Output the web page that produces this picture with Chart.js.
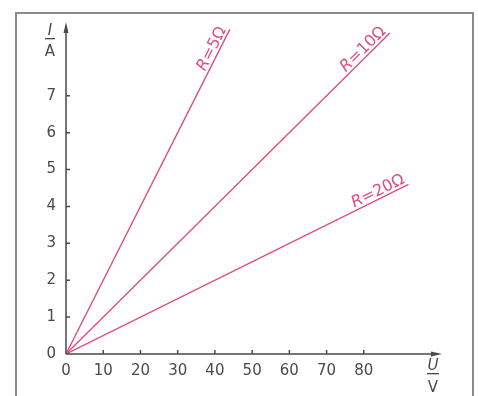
<!DOCTYPE html>
<html>
<head>
<meta charset="utf-8">
<script src="https://cdn.jsdelivr.net/npm/chart.js@4"></script>
<style>
  body { margin: 0; background: #fff; }
  #wrap { position: relative; width: 478px; height: 396px; }
  #frame { position: absolute; left: 15px; top: 12px; width: 455px; height: 400px;
           border: 2px solid #8a8a8a; border-bottom: none; }
</style>
</head>
<body>
<div id="wrap">
  <div id="frame"></div>
  <canvas id="myChart"></canvas>
</div>
<script>
// line end points (U in V, I in A)
const seriesNames = ['5', '10', '20'];
const voltsR5 = [0, 44];
const ampsR5 = [0, 8.8];
const voltsR10 = [0, 87];
const ampsR10 = [0, 8.7];
const voltsR20 = [0, 92];
const ampsR20 = [0, 4.6];
const xTicks = [0, 10, 20, 30, 40, 50, 60, 70, 80];
const yTicks = [0, 1, 2, 3, 4, 5, 6, 7];

const pink = '#dd4f80';
const ink = '#4a4a4a';
const font = '"DejaVu Sans", sans-serif';

function pts(xs, ys) {
    return xs.map((x, i) => ({ x: x, y: ys[i] }));
}

const axesPlugin = {
    id: 'axes',
    afterDraw(chart) {
        const ctx = chart.ctx;
        const xs = chart.scales.x, ys = chart.scales.y;
        const x0 = xs.getPixelForValue(0), y0 = ys.getPixelForValue(0);
        const xEnd = xs.getPixelForValue(xs.max), yEnd = ys.getPixelForValue(ys.max);
        ctx.save();
        ctx.strokeStyle = ink;
        ctx.fillStyle = ink;
        ctx.lineWidth = 1.5;
        ctx.beginPath();
        ctx.moveTo(x0, y0); ctx.lineTo(xEnd - 4, y0);
        ctx.moveTo(x0, y0); ctx.lineTo(x0, yEnd + 4);
        // tick marks inside the axes
        xTicks.slice(1).forEach(v => {
            const px = xs.getPixelForValue(v);
            ctx.moveTo(px, y0); ctx.lineTo(px, y0 - 4);
        });
        yTicks.slice(1).forEach(v => {
            const py = ys.getPixelForValue(v);
            ctx.moveTo(x0, py); ctx.lineTo(x0 + 4, py);
        });
        ctx.stroke();
        // arrows
        ctx.beginPath();
        ctx.moveTo(xEnd, y0); ctx.lineTo(xEnd - 11, y0 - 2.5); ctx.lineTo(xEnd - 11, y0 + 2.5);
        ctx.closePath();
        ctx.moveTo(x0, yEnd); ctx.lineTo(x0 - 2.5, yEnd + 11); ctx.lineTo(x0 + 2.5, yEnd + 11);
        ctx.closePath();
        ctx.fill();

        // axis names as fractions
        ctx.textAlign = 'center';
        ctx.textBaseline = 'alphabetic';
        ctx.font = 'italic 15px ' + font;
        ctx.fillText('I', 50, 35);
        ctx.font = '15px ' + font;
        ctx.fillText('A', 50, 56);
        ctx.fillRect(45, 38, 10, 1.3);
        ctx.font = 'italic 15px ' + font;
        ctx.fillText('U', 433, 370);
        ctx.font = '15px ' + font;
        ctx.fillText('V', 433, 392);
        ctx.fillRect(427, 373, 12, 1.3);

        // R = ... labels along the lines
        ctx.fillStyle = pink;
        chart.data.datasets.forEach((ds, i) => {
            const meta = chart.getDatasetMeta(i);
            const a = meta.data[0], b = meta.data[meta.data.length - 1];
            const ang = Math.atan2(b.y - a.y, b.x - a.x);
            ctx.save();
            ctx.translate(b.x, b.y);
            ctx.rotate(ang);
            ctx.textAlign = 'left';
            ctx.textBaseline = 'alphabetic';
            const rest = '=' + seriesNames[i] + 'Ω';
            ctx.font = '16px ' + font;
            const w2 = ctx.measureText(rest).width;
            ctx.font = 'italic 16px ' + font;
            const w1 = ctx.measureText('R').width;
            const end = -2;
            ctx.fillText('R', end - w2 - w1, -3);
            ctx.font = '16px ' + font;
            ctx.fillText(rest, end - w2, -3);
            ctx.restore();
        });
        ctx.restore();
    }
};

const ctx = document.getElementById('myChart');

new Chart(ctx, {
    type: 'scatter',
    data: {
        datasets: [
            { label: 'R=5Ω', data: pts(voltsR5, ampsR5) },
            { label: 'R=10Ω', data: pts(voltsR10, ampsR10) },
            { label: 'R=20Ω', data: pts(voltsR20, ampsR20) }
        ].map(d => Object.assign(d, {
            showLine: true,
            borderColor: pink,
            backgroundColor: pink,
            borderWidth: 1.4,
            pointRadius: 0
        }))
    },
    options: {
        responsive: true,
        maintainAspectRatio: false,
        animation: false,
        layout: { padding: { top: 22, right: 36, left: 0, bottom: 0 } },
        plugins: { legend: { display: false }, tooltip: { enabled: false } },
        scales: {
            x: {
                type: 'linear',
                min: 0,
                max: 101,
                afterFit: s => { s.height = 42; },
                afterBuildTicks: s => { s.ticks = xTicks.map(v => ({ value: v })); },
                ticks: { color: ink, font: { family: font, size: 15 }, padding: 8, maxRotation: 0 },
                grid: { display: false, drawTicks: false },
                border: { display: false }
            },
            y: {
                type: 'linear',
                min: 0,
                max: 9,
                afterFit: s => { s.width = 66; },
                afterBuildTicks: s => { s.ticks = yTicks.map(v => ({ value: v })); },
                ticks: { color: ink, font: { family: font, size: 15 }, padding: 10 },
                grid: { display: false, drawTicks: false },
                border: { display: false }
            }
        }
    },
    plugins: [axesPlugin]
});
</script>
</body>
</html>
